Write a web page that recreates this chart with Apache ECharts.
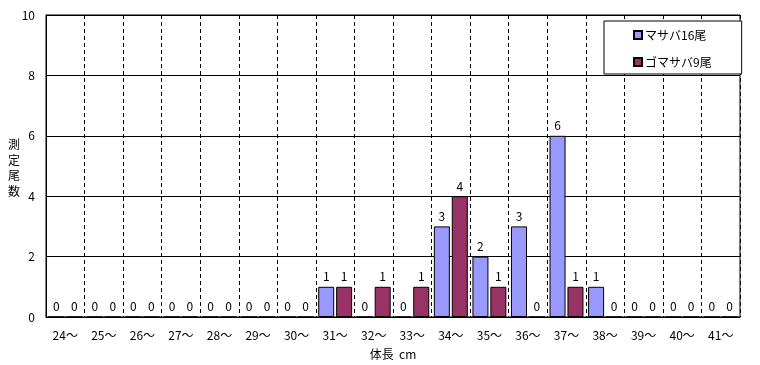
<!DOCTYPE html>
<html><head><meta charset="utf-8">
<script src="https://cdn.jsdelivr.net/npm/echarts@6/dist/echarts.min.js"></script>
<style>html,body{margin:0;padding:0;background:#fff}#c{width:760px;height:365px}</style>
</head><body><div id="c"></div>
<script>
const categories = ['24〜','25〜','26〜','27〜','28〜','29〜','30〜','31〜','32〜','33〜','34〜','35〜','36〜','37〜','38〜','39〜','40〜','41〜'];
const masaba = [0,0,0,0,0,0,0,1,0,0,3,2,3,6,1,0,0,0];
const gomasaba = [0,0,0,0,0,0,0,1,1,1,4,1,0,1,0,0,0,0];
const seriesNames = ['マサバ16尾','ゴマサバ9尾'];
const yTicks = [0,2,4,6,8,10];
const yAxisTitle = '測\n定\n尾\n数';

const FONT = '"Noto Sans CJK JP", sans-serif';
const chart = echarts.init(document.getElementById('c'), null, {renderer:'canvas'});
const lbl = {show:true, position:'top', color:'#000', fontSize:12, fontFamily:FONT, distance:4};
chart.setOption({
  animation:false,
  backgroundColor:'#fff',
  textStyle:{fontFamily:FONT, color:'#000'},
  grid:{left:46, right:20, top:15, bottom:45, show:true, borderColor:'#000', borderWidth:1},
  legend:{
    left:604, top:21, orient:'vertical', itemGap:15,
    padding:[8,30,6,29], borderColor:'#000', borderWidth:1, backgroundColor:'#fff',
    itemWidth:8, itemHeight:8, icon:'rect',
    textStyle:{fontSize:12, fontFamily:FONT, color:'#000', padding:[0,0,0,-2]},
    data:seriesNames
  },
  graphic:[{
    type:'text', left:8, top:137, silent:true,
    style:{text:yAxisTitle, fill:'#000', font:'12px "Noto Sans CJK JP", sans-serif', lineHeight:15.5}
  }],
  xAxis:{
    type:'category', data:categories,
    axisLine:{lineStyle:{color:'#000'}}, axisTick:{show:false},
    axisLabel:{color:'#000', fontSize:12, fontFamily:FONT, margin:12},
    splitLine:{show:true, lineStyle:{color:'#000', type:[4,3], width:1}},
    name:'体長  cm', nameLocation:'middle', nameGap:31,
    nameTextStyle:{color:'#000', fontSize:12, fontFamily:FONT}
  },
  yAxis:{
    type:'value', min:0, max:10, interval:2,
    axisLine:{show:true, lineStyle:{color:'#000'}}, axisTick:{show:false},
    axisLabel:{color:'#000', fontSize:12, fontFamily:FONT, margin:11,
      formatter:v=>yTicks.includes(v)?String(v):''},
    splitLine:{show:true, lineStyle:{color:'#000', width:1}}
  },
  series:[
    {name:seriesNames[0], type:'bar', data:masaba, barWidth:16, barGap:'12%',
     itemStyle:{color:'#9999FF', borderColor:'#000', borderWidth:1}, label:lbl},
    {name:seriesNames[1], type:'bar', data:gomasaba, barWidth:16,
     itemStyle:{color:'#993366', borderColor:'#000', borderWidth:1}, label:lbl}
  ]
});
</script></body></html>
